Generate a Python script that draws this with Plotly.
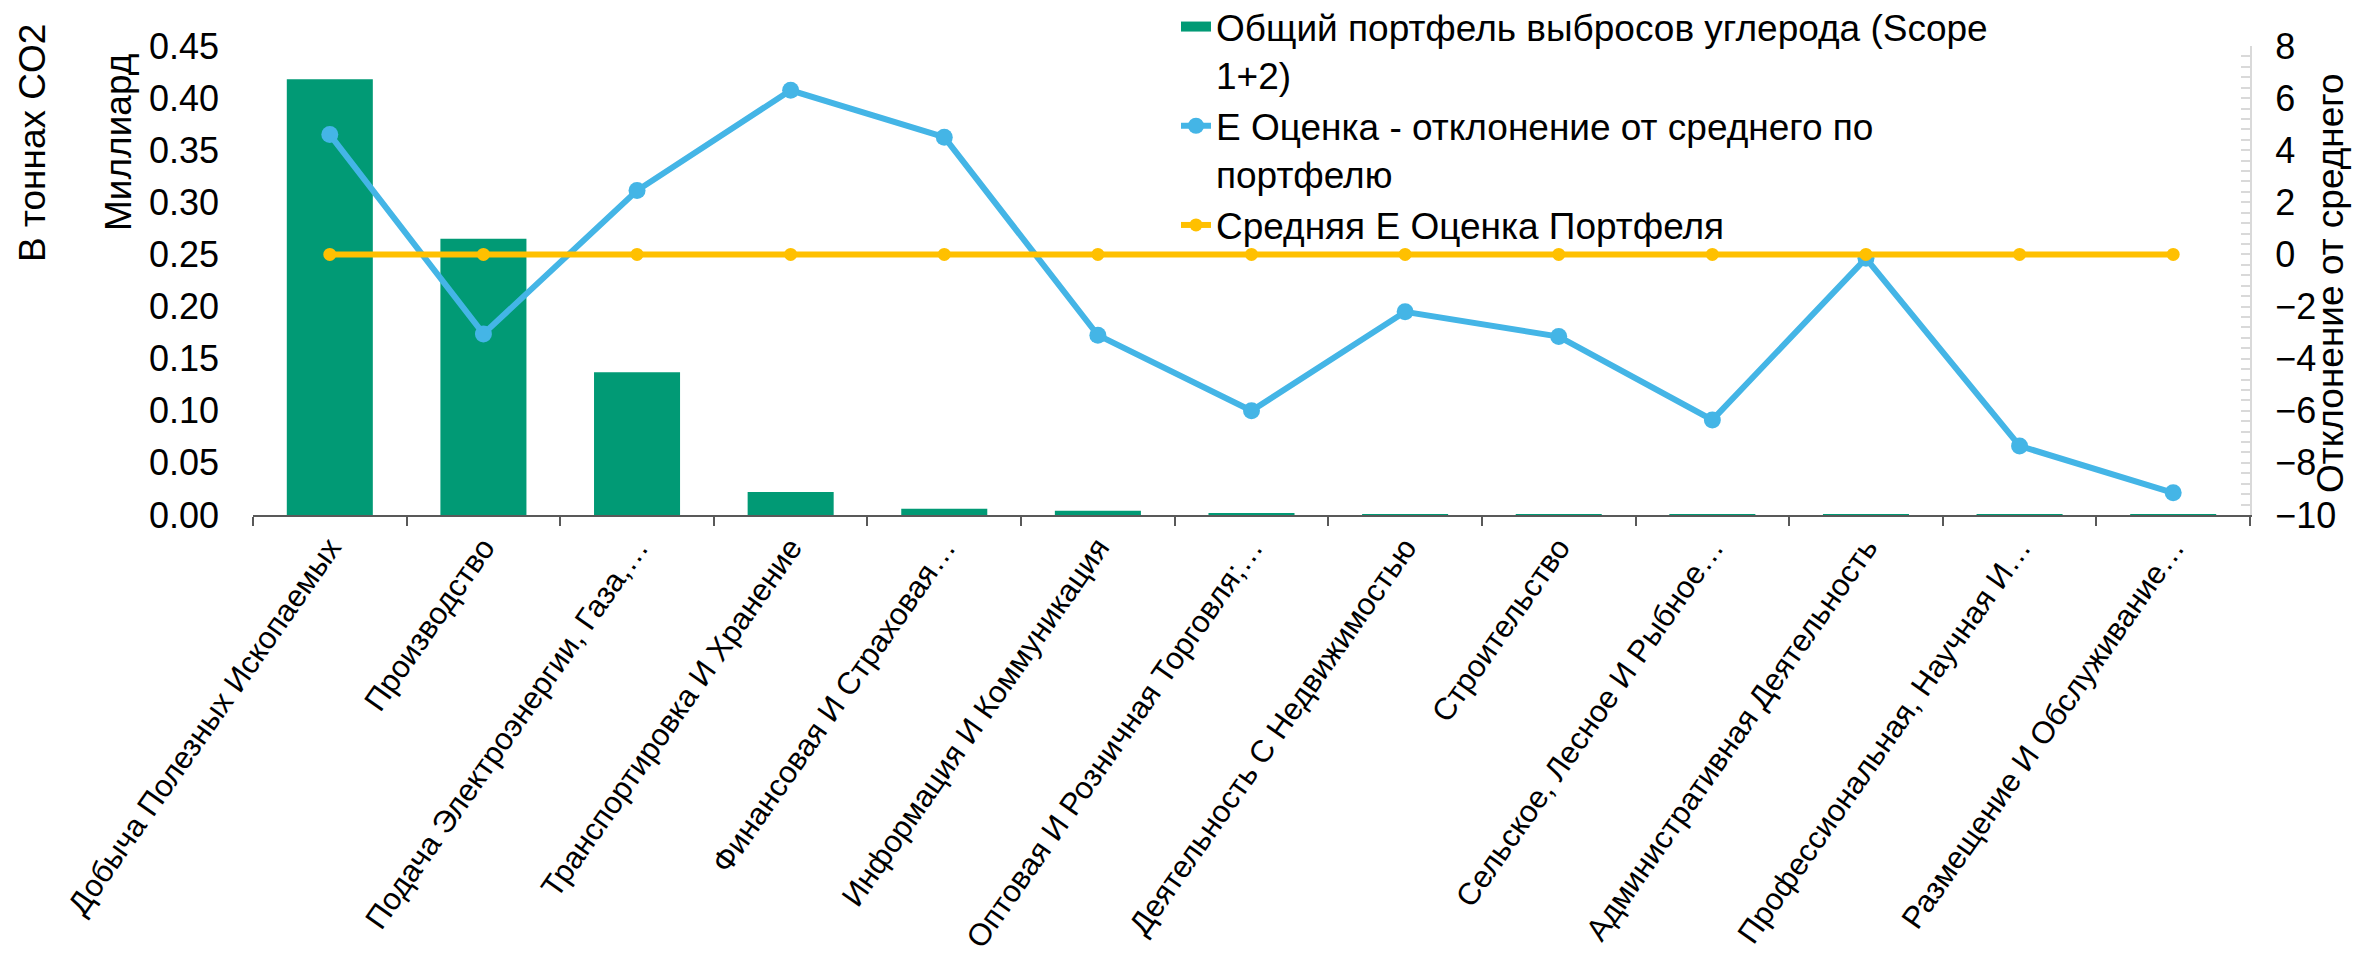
import plotly.graph_objects as go

categories = [
    "Добыча Полезных Ископаемых",
    "Производство",
    "Подача Электроэнергии, Газа,…",
    "Транспортировка И Хранение",
    "Финансовая И Страховая…",
    "Информация И Коммуникация",
    "Оптовая И Розничная Торговля;…",
    "Деятельность С Недвижимостью",
    "Строительство",
    "Сельское, Лесное И Рыбное…",
    "Административная Деятельность",
    "Профессиональная, Научная И…",
    "Размещение И Обслуживание…",
]
emissions = [0.418, 0.265, 0.137, 0.022, 0.006, 0.004, 0.002, 0.0006, 0.0004, 0.0003, 0.0002, 0.0001, 0.0001]
e_deviation = [4.6, -3.05, 2.45, 6.3, 4.5, -3.1, -6.0, -2.2, -3.15, -6.35, -0.15, -7.35, -9.15]
e_average = [0] * 13

name_bar = "Общий портфель выбросов углерода (Scope<br>1+2)"
name_dev = "Е Оценка - отклонение от среднего по<br>портфелю"
name_avg = "Средняя Е Оценка Портфеля"

W, H = 2361, 960
L, R, T, B = 245, 2242, 38, 507
FONT = "Liberation Sans, Arial, sans-serif"
FS = 37
FS_TICK = 36
FS_X = 31
GREEN, BLUE, YELLOW = "#019a75", "#44b5e6", "#ffc000"


def px_x(x):
    return (x - L) / (R - L)


def px_y(y):
    return (B - y) / (B - T)


fig = go.Figure()
fig.add_trace(go.Bar(x=categories, y=emissions, name=name_bar, showlegend=False,
                     marker=dict(color=GREEN, line=dict(width=0)), yaxis="y"))
# legend swatch for the bar series (wide rectangle like the original)
fig.add_trace(go.Scatter(x=[categories[0]], y=[None], name=name_bar, mode="lines",
                         line=dict(color=GREEN, width=15), yaxis="y", hoverinfo="skip"))
fig.add_trace(go.Scatter(x=categories, y=e_deviation, name=name_dev, mode="lines+markers",
                         line=dict(color=BLUE, width=6),
                         marker=dict(color=BLUE, size=17), yaxis="y2"))
fig.add_trace(go.Scatter(x=categories, y=e_average, name=name_avg, mode="lines+markers",
                         line=dict(color=YELLOW, width=6),
                         marker=dict(color=YELLOW, size=13), yaxis="y2"))

fig.update_layout(
    width=W, height=H,
    margin=dict(l=L, r=W - R, t=T, b=H - B, pad=0, autoexpand=False),
    paper_bgcolor="white", plot_bgcolor="white",
    font=dict(family=FONT, size=FS, color="black"),
    bargap=0.44,
    showlegend=True,
    legend=dict(x=px_x(1168), y=px_y(-12), xanchor="left", yanchor="top",
                bgcolor="rgba(0,0,0,0)", font=dict(size=FS, color="black"),
                valign="top", tracegroupgap=0),
    xaxis=dict(type="category", range=[-0.5, len(categories) - 0.5],
               showline=True, linecolor="#595959", linewidth=2,
               ticks="outside", tickson="boundaries", ticklen=9, tickcolor="#595959", tickwidth=2,
               tickangle=-55, tickfont=dict(size=FS_X, color="black"), showgrid=False,
               ticklabelstandoff=0, automargin=False),
    yaxis=dict(range=[0, 0.45], dtick=0.05, tickformat=".2f", showgrid=False, zeroline=False,
               showline=False, ticks="", ticklabelstandoff=33, automargin=False,
               tickfont=dict(size=FS_TICK, color="black")),
    yaxis2=dict(range=[-10, 8], dtick=2, overlaying="y", side="right", showgrid=False,
                zeroline=False, showline=True, linecolor="#d9d9d9", linewidth=2,
                ticks="inside", ticklen=9, tickcolor="#d9d9d9", tickwidth=2, automargin=False,
                minor=dict(dtick=0.4, ticks="inside", ticklen=9, tickcolor="#d9d9d9", tickwidth=2),
                ticklabelstandoff=16, tickfont=dict(size=FS_TICK, color="black")),
)

fig.add_annotation(text="В тоннах CO2", xref="paper", yref="paper", x=px_x(24), y=px_y(135),
                   textangle=-90, showarrow=False, xanchor="center", yanchor="middle",
                   font=dict(size=FS, color="black"))
fig.add_annotation(text="Миллиард", xref="paper", yref="paper", x=px_x(110), y=px_y(135),
                   textangle=-90, showarrow=False, xanchor="center", yanchor="middle",
                   font=dict(size=FS, color="black"))
fig.add_annotation(text="Отклонение от среднего", xref="paper", yref="paper", x=px_x(2322), y=px_y(275),
                   textangle=-90, showarrow=False, xanchor="center", yanchor="middle",
                   font=dict(size=FS, color="black"))

fig.write_html("out.html")
